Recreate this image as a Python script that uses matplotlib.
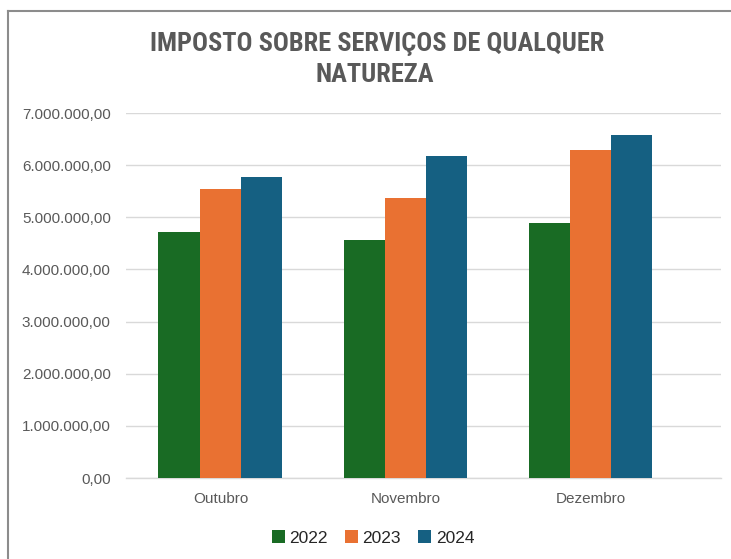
import numpy as np
import matplotlib.pyplot as plt
from matplotlib.ticker import FuncFormatter
from matplotlib.lines import Line2D

meses = ['Outubro', 'Novembro', 'Dezembro']
anos = ['2022', '2023', '2024']
v2022 = [4720000, 4570000, 4900000]
v2023 = [5540000, 5370000, 6300000]
v2024 = [5770000, 6180000, 6570000]
cores = ['#196B24', '#E97132', '#156082']

W, H = 731, 559
fig = plt.figure(figsize=(W/100, H/100), dpi=100)
ax = fig.add_axes([126/W, (H-478)/H, (721-126)/W, 365/H])

x = np.arange(len(meses))
larg = 0.223
for i, (vals, cor, ano) in enumerate(zip([v2022, v2023, v2024], cores, anos)):
    ax.bar(x + (i-1)*larg, vals, larg, color=cor, label=ano, zorder=3)

ax.set_ylim(0, 7000000)
ax.set_xlim(-0.51, 2.705)
ax.set_yticks(np.arange(0, 7000001, 1000000))
fmt = lambda v, p: f'{v:,.2f}'.replace(',', 'X').replace('.', ',').replace('X', '.')
ax.yaxis.set_major_formatter(FuncFormatter(fmt))
ax.set_xticks(x)
ax.set_xticklabels(meses)

ax.grid(axis='y', color='#D9D9D9', linewidth=1.0, zorder=0)
for s in ['top', 'right', 'left']:
    ax.spines[s].set_visible(False)
ax.spines['bottom'].set_color('#D9D9D9')
ax.spines['bottom'].set_linewidth(1.0)
ax.tick_params(axis='both', length=0, colors='#595959', labelsize=11)
ax.tick_params(axis='y', pad=11)
ax.tick_params(axis='x', pad=10)
for t in ax.get_xticklabels() + ax.get_yticklabels():
    t.set_fontfamily(['Liberation Sans', 'DejaVu Sans'])

fam_tit = ['Roboto Condensed', 'Liberation Sans Narrow', 'Liberation Sans']
fig.text(377/W, 1-44/H, 'IMPOSTO SOBRE SERVIÇOS DE QUALQUER', ha='center', va='center',
         fontsize=19, fontweight='bold', color='#595959', family=fam_tit)
fig.text(375/W, 1-75/H, 'NATUREZA', ha='center', va='center',
         fontsize=19, fontweight='bold', color='#595959', family=fam_tit)

leg = fig.legend(loc='center', bbox_to_anchor=(373/W, 1-538/H), ncol=3, frameon=False,
                 handlelength=0.75, handleheight=0.75, handletextpad=0.25, columnspacing=1.0,
                 prop={'family': 'Liberation Sans', 'size': 12.5})
for t in leg.get_texts():
    t.set_color('#262626')

# moldura do grafico
fig.add_artist(Line2D([8/W, 8/W], [0, 1-11/H], color='#8C8C8C', linewidth=1.5))
fig.add_artist(Line2D([8/W, 1], [1-11/H, 1-11/H], color='#8C8C8C', linewidth=1.5))

fig.savefig('out.png', dpi=100)
